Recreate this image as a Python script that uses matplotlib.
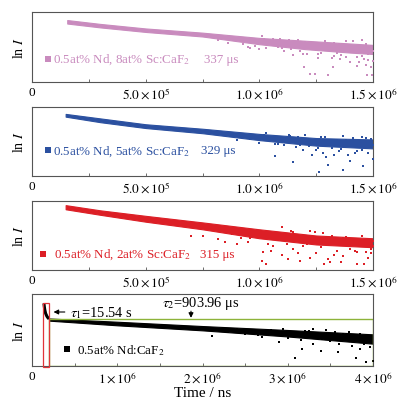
import matplotlib.pyplot as plt
from matplotlib.patches import Rectangle
import numpy as np

plt.rcParams['font.family'] = ['Liberation Serif', 'DejaVu Serif']
plt.rcParams['mathtext.fontset'] = 'stix'

# ln I is in relative units: 0 = bottom of panel, 1 = top. time in 10^6 ns
# dense core of each decay (upper / lower edge)
sc8_x = [0.155, 0.3, 0.5, 0.75, 1.0, 1.2, 1.4, 1.5]
sc8_hi = [0.885, 0.83, 0.765, 0.705, 0.63, 0.59, 0.55, 0.53]
sc8_lo = [0.835, 0.78, 0.715, 0.65, 0.54, 0.47, 0.42, 0.40]
sc5_x = [0.148, 0.3, 0.5, 0.75, 1.0, 1.25, 1.5]
sc5_hi = [0.90, 0.835, 0.75, 0.685, 0.61, 0.55, 0.53]
sc5_lo = [0.86, 0.78, 0.695, 0.62, 0.52, 0.44, 0.40]
sc2_x = [0.148, 0.3, 0.5, 0.75, 1.0, 1.25, 1.5]
sc2_hi = [0.94, 0.865, 0.785, 0.69, 0.59, 0.50, 0.46]
sc2_lo = [0.88, 0.80, 0.70, 0.59, 0.46, 0.37, 0.33]
nd_x = [0.2, 1.0, 2.0, 3.0, 4.0]
nd_hi = [0.66, 0.615, 0.555, 0.50, 0.44]
nd_lo = [0.63, 0.565, 0.495, 0.41, 0.31]
# fast component of the undoped sample
spike_x = [0.14, 0.145, 0.15, 0.16, 0.175, 0.19, 0.2]
spike_y = [0.87, 0.82, 0.78, 0.73, 0.69, 0.665, 0.655]

# scattered points in the noisy tail
sc8_px = [0.96, 1.0, 1.05, 1.08, 1.11, 1.15, 1.18, 1.197, 1.223, 1.245,
          1.26, 1.28, 1.302, 1.318, 1.324, 1.34, 1.355, 1.37, 1.38, 1.399,
          1.41, 1.428, 1.44, 1.45, 1.46, 1.472, 1.48, 1.49, 1.494, 1.5,
          1.5, 1.47, 1.43, 1.39, 1.33, 1.29, 1.24, 1.2, 1.13, 1.06,
          0.82, 0.86, 0.9, 0.93, 0.98, 1.02, 1.07, 1.12, 1.16, 1.22,
          1.27, 1.31, 1.35, 1.42, 1.46, 1.49, 0.88, 0.95, 1.03, 1.14,
          1.25, 1.36, 1.44, 1.48,
          1.01, 1.09, 1.17, 1.21, 1.29, 1.33, 1.41, 1.45, 1.38, 1.26,
          1.19, 1.1, 1.47, 1.43]
sc8_py = [0.48, 0.47, 0.57, 0.50, 0.45, 0.38, 0.44, 0.21, 0.11, 0.11,
          0.40, 0.47, 0.10, 0.35, 0.21, 0.42, 0.33, 0.50, 0.58, 0.29,
          0.45, 0.23, 0.52, 0.37, 0.42, 0.10, 0.31, 0.21, 0.10, 0.30,
          0.45, 0.55, 0.36, 0.48, 0.56, 0.53, 0.48, 0.57, 0.60, 0.62,
          0.60, 0.56, 0.60, 0.54, 0.52, 0.62, 0.53, 0.58, 0.52, 0.55,
          0.42, 0.47, 0.55, 0.44, 0.33, 0.52, 0.63, 0.50, 0.49, 0.47,
          0.46, 0.38, 0.29, 0.40,
          0.66, 0.62, 0.60, 0.40, 0.58, 0.37, 0.59, 0.60, 0.36, 0.35,
          0.40, 0.48, 0.25, 0.45]
sc5_px = [1.0, 1.04, 1.069, 1.10, 1.135, 1.147, 1.18, 1.21, 1.23, 1.26,
          1.264, 1.293, 1.303, 1.33, 1.36, 1.369, 1.38, 1.40, 1.42, 1.44,
          1.455, 1.47, 1.49, 1.5, 1.5, 1.45, 1.39, 1.31, 1.24, 1.16,
          1.08, 1.35, 1.28, 1.46,
          0.82, 0.87, 0.92, 0.96, 1.02, 1.07, 1.12, 1.17, 1.22, 1.27,
          1.32, 1.37, 1.42, 1.47, 0.9, 1.05, 1.19, 1.34, 1.43, 1.49,
          1.03, 1.11, 1.2, 1.29, 1.37, 1.41, 1.48, 1.25, 1.13, 1.33, 1.45]
sc5_py = [0.48, 0.56, 0.29, 0.50, 0.58, 0.20, 0.45, 0.52, 0.30, 0.40,
          0.06, 0.27, 0.16, 0.46, 0.39, 0.09, 0.52, 0.22, 0.33, 0.45,
          0.15, 0.40, 0.53, 0.25, 0.45, 0.38, 0.30, 0.50, 0.47, 0.42,
          0.46, 0.36, 0.34, 0.50,
          0.64, 0.58, 0.61, 0.54, 0.60, 0.47, 0.55, 0.57, 0.44, 0.56,
          0.41, 0.58, 0.48, 0.55, 0.52, 0.53, 0.38, 0.52, 0.36, 0.42,
          0.63, 0.45, 0.59, 0.57, 0.45, 0.55, 0.34, 0.37, 0.60, 0.30, 0.57]
sc2_px = [0.70, 0.754, 0.82, 0.88, 0.9, 0.95, 1.01, 1.017, 1.028, 1.06,
          1.098, 1.127, 1.15, 1.15, 1.179, 1.2, 1.223, 1.223, 1.245, 1.27,
          1.284, 1.30, 1.31, 1.33, 1.36, 1.37, 1.38, 1.40, 1.428, 1.43,
          1.44, 1.46, 1.47, 1.49, 1.5, 1.25, 1.10, 1.05, 0.97, 1.34,
          1.41, 1.48, 1.19, 1.29,
          0.78, 0.83, 0.86, 0.92, 0.99, 1.03, 1.08, 1.13, 1.18, 1.21,
          1.26, 1.32, 1.35, 1.39, 1.45, 1.5, 0.85, 0.94, 1.12, 1.24, 1.42,
          0.88, 1.04, 1.14, 1.22, 1.28, 1.37, 1.46, 1.49, 1.33, 1.17, 1.07, 0.96]
sc2_py = [0.50, 0.50, 0.45, 0.52, 0.38, 0.40, 0.13, 0.26, 0.09, 0.35,
          0.62, 0.16, 0.30, 0.55, 0.13, 0.42, 0.17, 0.57, 0.55, 0.33,
          0.09, 0.16, 0.12, 0.38, 0.11, 0.21, 0.48, 0.30, 0.26, 0.09,
          0.43, 0.09, 0.26, 0.31, 0.42, 0.24, 0.22, 0.28, 0.55, 0.27,
          0.38, 0.18, 0.35, 0.45,
          0.64, 0.56, 0.60, 0.47, 0.58, 0.50, 0.44, 0.52, 0.48, 0.38,
          0.46, 0.50, 0.41, 0.38, 0.49, 0.35, 0.40, 0.55, 0.38, 0.46, 0.27,
          0.61, 0.38, 0.56, 0.49, 0.54, 0.47, 0.40, 0.25, 0.22, 0.25, 0.53, 0.46]
nd_px = [2.115, 2.5, 2.7, 2.9, 3.085, 3.164, 3.3, 3.387, 3.45, 3.5,
         3.593, 3.65, 3.75, 3.797, 3.85, 3.92, 3.95, 4.0, 3.2, 3.6, 3.8, 2.3,
         2.4, 2.6, 2.8, 3.0, 3.1, 3.25, 3.4, 3.55, 3.7, 3.85, 3.98, 3.35,
         3.62, 3.9, 2.95,
         3.15, 3.5, 3.72, 3.88, 3.96, 3.3, 2.65, 3.78]
nd_py = [0.42, 0.44, 0.40, 0.33, 0.11, 0.24, 0.30, 0.21, 0.50, 0.35,
         0.19, 0.45, 0.28, 0.11, 0.24, 0.06, 0.36, 0.07, 0.48, 0.30, 0.40, 0.47,
         0.52, 0.47, 0.50, 0.39, 0.46, 0.49, 0.38, 0.47, 0.36, 0.45, 0.40, 0.42,
         0.41, 0.31, 0.52,
         0.36, 0.43, 0.47, 0.39, 0.27, 0.51, 0.43, 0.33]

labels = ['0.5at% Nd, 8at% Sc:CaF$_2$', '0.5at% Nd, 5at% Sc:CaF$_2$',
          '0.5at% Nd, 2at% Sc:CaF$_2$', '0.5at% Nd:CaF$_2$']
lifetimes = ['337 μs', '329 μs', '315 μs']
colors = ['#c98bbe', '#2b50a0', '#dc1f26', '#000000']

short_ticks = [0, 0.5, 1.0, 1.5]
short_labels = ['0', r'$5.0\times10^{5}$', r'$1.0\times10^{6}$', r'$1.5\times10^{6}$']
long_ticks = [0, 1, 2, 3, 4]
long_labels = ['0', r'$1\times10^{6}$', r'$2\times10^{6}$', r'$3\times10^{6}$', r'$4\times10^{6}$']

fig = plt.figure(figsize=(3.98, 4.06), dpi=100)
L, W = 32 / 398, 341 / 398
boxes = [(83, 70), (177, 69), (271, 69), (367, 72)]
axes = [fig.add_axes([L, (406 - b) / 406, W, h / 406]) for b, h in boxes]

bands = [(sc8_x, sc8_hi, sc8_lo), (sc5_x, sc5_hi, sc5_lo),
         (sc2_x, sc2_hi, sc2_lo), (nd_x, nd_hi, nd_lo)]
points = [(sc8_px, sc8_py), (sc5_px, sc5_py), (sc2_px, sc2_py), (nd_px, nd_py)]
leg_pos = [(0.07, 0.33, 0.092, 0.755), (0.07, 0.37, 0.092, 0.742),
           (0.05, 0.23, 0.097, 0.738), (0.41, 0.23, 0.528, None)]

for i, ax in enumerate(axes):
    c = colors[i]
    bx, bhi, blo = bands[i]
    bx = np.array(bx) * 1e6
    ax.fill_between(bx, blo, bhi, color=c, lw=0.8, zorder=2)
    px, py = points[i]
    ax.scatter(np.array(px) * 1e6, py, s=4.2, marker='s', color=c, lw=0, zorder=3)

    mx, my, tx, lx = leg_pos[i]
    ax.scatter([mx * 1e6], [my], s=14, marker='s', color=c, lw=0)
    ax.text(tx * 1e6, my, labels[i], color=c, fontsize=9.4, va='center')
    if lx is not None:
        ax.text(lx * 1e6, my, lifetimes[i], color=c, fontsize=9.4, va='center')

    ax.set_ylim(0, 1)
    ax.set_yticks([])
    ax.set_ylabel('ln $I$', fontsize=10, labelpad=4)
    for s in ax.spines.values():
        s.set_color('#555555')
        s.set_linewidth(0.8)
    ax.tick_params(axis='x', which='both', direction='in', length=2.5,
                   width=0.6, color='#555555', labelsize=9.5, pad=3)

    if i < 3:
        ax.set_xlim(0, 1.5e6)
        ax.set_xticks(np.array(short_ticks) * 1e6)
        ax.set_xticklabels(short_labels)
        ax.set_xticks(np.arange(0.25e6, 1.5e6, 0.5e6), minor=True)
    else:
        ax.set_xlim(0, 4e6)
        ax.set_xticks(np.array(long_ticks) * 1e6)
        ax.set_xticklabels(long_labels)
        ax.set_xticks(np.arange(0.5e6, 4e6, 1e6), minor=True)

ax = axes[3]
ax.plot(np.array(spike_x) * 1e6, spike_y, color='k', lw=2.2, solid_capstyle='butt', zorder=3)
ax.add_patch(Rectangle((0.2e6, 0), 3.8e6, 0.655, fill=False, ec='#8db33a', lw=1.0, zorder=4))
ax.add_patch(Rectangle((0.13e6, -0.014), 0.07e6, 0.889, fill=False, ec='#e0353a',
                       lw=0.9, zorder=5, clip_on=False))
ax.annotate(r'$\tau_1$=15.54 s', xy=(0.22e6, 0.75), xytext=(0.45e6, 0.75),
            fontsize=10.4, va='center',
            arrowprops=dict(arrowstyle='-|>', color='k', lw=0.8, mutation_scale=7))
ax.annotate('', xy=(1.865e6, 0.63), xytext=(1.865e6, 0.80),
            arrowprops=dict(arrowstyle='-|>', color='k', lw=0.8, mutation_scale=7))
ax.text(1.98e6, 0.88, r'$\tau_2$=903.96 μs', fontsize=10.4, ha='center', va='center')
ax.set_xlabel('Time / ns', fontsize=11, labelpad=0)

fig.savefig('out.png', dpi=100)
